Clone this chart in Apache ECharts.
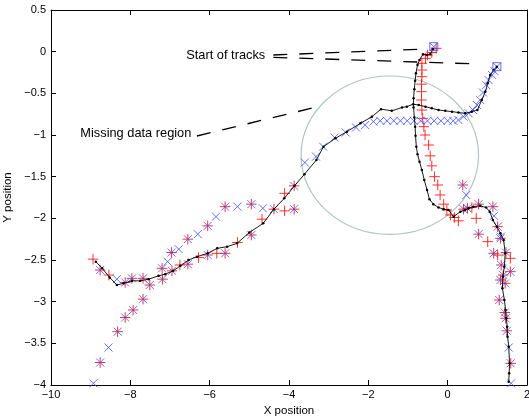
<!DOCTYPE html>
<html><head><meta charset="utf-8">
<script src="https://cdn.jsdelivr.net/npm/echarts@6/dist/echarts.min.js"></script>
<style>html,body{margin:0;padding:0;background:#fff}#c{width:529px;height:419px}</style>
</head><body><div id="c"></div>
<script>
const xTicks = {min: -10, max: 2, interval: 2};
const yTicks = {min: -4, max: 0.5, interval: 0.5};

const trackA = [[-0.37,0.03],[-0.44,-0.03],[-0.52,-0.04],[-0.62,-0.03],[-0.71,-0.10],[-0.76,-0.16],[-0.80,-0.26],[-0.82,-0.35],[-0.84,-0.45],[-0.86,-0.56],[-0.86,-0.67],[-0.84,-0.79],[-0.82,-0.90],[-0.81,-1.01],[-0.79,-1.14],[-0.76,-1.23],[-0.71,-1.32],[-0.65,-1.42],[-0.59,-1.54],[-0.52,-1.66],[-0.46,-1.77],[-0.36,-1.83],[-0.23,-1.87],[-0.10,-1.89],[0.02,-1.90],[0.15,-1.98],[0.32,-1.92],[0.44,-1.90],[0.53,-1.88],[0.65,-1.86],[0.82,-1.85],[0.97,-1.87],[1.06,-1.92],[1.14,-2.02],[1.24,-2.10],[1.33,-2.18],[1.41,-2.26],[1.45,-2.42],[1.43,-2.58],[1.39,-2.70],[1.38,-2.84],[1.43,-2.98],[1.46,-3.10],[1.48,-3.20],[1.50,-3.30],[1.51,-3.42],[1.54,-3.54],[1.56,-3.74],[1.55,-3.86],[1.54,-3.96]];

const trackB = [[1.24,-0.18],[1.16,-0.22],[1.07,-0.28],[1.01,-0.38],[0.95,-0.48],[0.86,-0.58],[0.75,-0.70],[0.61,-0.72],[0.44,-0.74],[0.27,-0.73],[0.11,-0.72],[-0.06,-0.71],[-0.23,-0.70],[-0.40,-0.68],[-0.56,-0.66],[-0.73,-0.64],[-0.87,-0.63],[-1.03,-0.66],[-1.15,-0.67],[-1.41,-0.71],[-1.68,-0.69],[-1.91,-0.78],[-2.20,-0.86],[-2.54,-0.96],[-2.83,-1.04],[-3.13,-1.14],[-3.31,-1.30],[-3.61,-1.47],[-3.86,-1.61],[-4.12,-1.76],[-4.38,-1.89],[-4.65,-2.06],[-5.00,-2.17],[-5.31,-2.30],[-5.56,-2.34],[-5.81,-2.36],[-6.05,-2.42],[-6.32,-2.46],[-6.53,-2.50],[-6.74,-2.57],[-6.92,-2.63],[-7.12,-2.67],[-7.29,-2.69],[-7.54,-2.73],[-7.75,-2.75],[-7.96,-2.75],[-8.17,-2.78],[-8.34,-2.80],[-8.52,-2.71],[-8.71,-2.60],[-8.87,-2.52]];

// measurements marked with both symbols
const bothMarks = [[-8.76,-2.62],[-8.13,-2.77],[-7.96,-2.72],[-7.68,-2.72],[-7.51,-2.80],[-7.20,-2.60],[-7.19,-2.73],[-6.96,-2.41],[-6.95,-2.63],[-6.55,-2.25],[-6.55,-2.55],[-6.05,-2.09],[-6.05,-2.44],[-5.61,-1.86],[-5.61,-2.42],[-4.95,-1.83],[-4.95,-2.20],[-4.38,-1.89],[-3.87,-1.89],[-3.87,-1.61],[-7.68,-2.97],[-7.93,-3.10],[-8.13,-3.19],[-8.32,-3.36],[-8.76,-3.73],[0.38,-1.60],[0.40,-1.89],[0.50,-1.88],[0.78,-1.83],[1.14,-1.86],[1.26,-2.10],[0.78,-2.19],[1.33,-2.24],[1.16,-2.42],[1.47,-2.41],[1.35,-2.56],[1.58,-2.64],[1.33,-2.74],[1.45,-2.78],[1.40,-2.68],[1.30,-2.98],[1.44,-3.13],[1.46,-3.20],[1.49,-3.35],[1.59,-3.74]];

const redPlusOnly = [[-0.29,0.04],[-0.40,-0.01],[-0.51,-0.04],[-0.56,-0.08],[-0.65,-0.14],[-0.65,-0.22],[-0.65,-0.30],[-0.66,-0.39],[-0.66,-0.48],[-0.66,-0.58],[-0.65,-0.70],[-0.63,-0.80],[-0.60,-0.90],[-0.57,-1.00],[-0.48,-1.12],[-0.44,-1.25],[-0.40,-1.37],[-0.33,-1.50],[-0.25,-1.60],[-0.19,-1.72],[-0.10,-1.83],[-0.02,-1.90],[0.07,-1.96],[0.17,-1.99],[0.27,-2.03],[0.61,-1.87],[0.72,-2.00],[1.01,-2.28],[1.26,-2.44],[1.58,-2.48],[-8.94,-2.49],[-8.54,-2.68],[-6.75,-2.56],[-6.28,-2.47],[-5.82,-2.42],[-5.30,-2.29],[-4.68,-2.01],[-4.11,-1.91],[-4.11,-1.70]];

const blueCrossOnly = [[-0.35,0.06],[1.24,-0.18],[1.17,-0.23],[1.12,-0.28],[1.03,-0.34],[0.97,-0.40],[0.89,-0.49],[0.82,-0.58],[0.74,-0.64],[0.64,-0.70],[0.53,-0.74],[0.40,-0.78],[0.27,-0.82],[0.14,-0.83],[0.00,-0.83],[-0.17,-0.83],[-0.34,-0.83],[-0.51,-0.83],[-0.68,-0.83],[-0.85,-0.83],[-1.02,-0.83],[-1.19,-0.83],[-1.36,-0.83],[-1.53,-0.83],[-1.70,-0.83],[-1.87,-0.84],[-2.08,-0.88],[-2.31,-0.91],[-2.57,-0.97],[-2.85,-1.03],[-3.14,-1.14],[-3.32,-1.26],[-3.60,-1.33],[-8.34,-2.73],[-7.06,-2.52],[-6.78,-2.37],[-6.30,-2.19],[-5.84,-1.98],[-5.30,-1.86],[-4.66,-1.88],[-8.55,-3.55],[-8.93,-3.98],[0.47,-1.72],[1.17,-1.97],[1.34,-2.22],[1.54,-3.55],[1.60,-3.98]];

const trackStarts = [[-0.35,0.06],[1.24,-0.18]];

// annotations (data coordinates)
const regionEllipse = [[-1.459,-1.242,2.238,0.950]];
const dashStart = [[-4.396,-0.040],[-0.514,0.032]];
const dashStart2 = [[-4.396,-0.068],[0.771,-0.148]];
const dashMissing = [[-6.32,-1.012],[-3.338,-0.668]];
const noteText = ['Start of tracks','Missing data region'];
const notePos = [[-6.59,-0.04],[-9.26,-0.976]];

const FONT = '"Liberation Sans", Arial, Helvetica, sans-serif';
const minus = v => String(v).replace('-', '\u2212');
const redPlus = redPlusOnly.concat(bothMarks);
const blueCross = blueCrossOnly.concat(bothMarks);

const chart = echarts.init(document.getElementById('c'));
const axBase = {
  axisLine: {show: true, onZero: false, lineStyle: {color: '#000', width: 1}},
  axisTick: {show: true, inside: true, length: 5, lineStyle: {color: '#000'}},
  splitLine: {show: false},
};
const dashStyle = {color: '#000', width: 1.3, type: [14, 12]};
chart.setOption({
  animation: false,
  grid: {left: 51, right: 2, top: 10, bottom: 34, containLabel: false, outerBoundsMode: 'none'},
  xAxis: [
    Object.assign({type: 'value', min: xTicks.min, max: xTicks.max, interval: xTicks.interval,
      name: 'X position', nameLocation: 'middle', nameGap: 18,
      nameTextStyle: {fontFamily: FONT, fontSize: 11.5, color: '#000'},
      axisLabel: {formatter: minus, fontFamily: FONT, fontSize: 11, color: '#000', margin: 4}}, axBase),
    Object.assign({type: 'value', position: 'top', min: xTicks.min, max: xTicks.max, interval: xTicks.interval,
      axisLabel: {show: false}}, axBase)
  ],
  yAxis: [
    Object.assign({type: 'value', min: yTicks.min, max: yTicks.max, interval: yTicks.interval,
      name: 'Y position', nameLocation: 'middle', nameGap: 33,
      nameTextStyle: {fontFamily: FONT, fontSize: 11.5, color: '#000'},
      axisLabel: {formatter: minus, fontFamily: FONT, fontSize: 11, color: '#000', margin: 5}}, axBase),
    Object.assign({type: 'value', position: 'right', min: yTicks.min, max: yTicks.max, interval: yTicks.interval,
      axisLabel: {show: false}}, axBase)
  ],
  series: [
    {type: 'custom', data: regionEllipse, silent: true, z: 1,
      renderItem: (params, api) => {
        const c = api.coord([api.value(0), api.value(1)]);
        const s = api.size([api.value(2), api.value(3)]);
        return {type: 'ellipse', shape: {cx: c[0], cy: c[1], rx: s[0], ry: s[1]},
          style: {fill: 'none', stroke: '#b2c4c4', lineWidth: 1.2}};
      }},
    {type: 'line', data: dashStart, symbol: 'none', lineStyle: dashStyle, z: 2},
    {type: 'line', data: dashStart2, symbol: 'none', lineStyle: dashStyle, z: 2},
    {type: 'line', data: dashMissing, symbol: 'none', lineStyle: dashStyle, z: 2},
    {type: 'custom', data: notePos, silent: true, z: 3,
      renderItem: (params, api) => {
        const c = api.coord([api.value(0), api.value(1)]);
        return {type: 'text', x: c[0], y: c[1],
          style: {text: noteText[params.dataIndex], fill: '#000', font: '12.8px ' + FONT,
            textAlign: 'left', textVerticalAlign: 'middle'}};
      }},
    {type: 'scatter', data: redPlus, symbol: 'path://M0,5L10,5M5,0L5,10', symbolSize: 10.5, z: 4,
      itemStyle: {color: 'none', borderColor: '#ff1a1a', borderWidth: 1, opacity: 0.9}},
    {type: 'scatter', data: blueCross, symbol: 'path://M0,0L10,10M0,10L10,0', symbolSize: 8, z: 5,
      itemStyle: {color: 'none', borderColor: '#3c4cff', borderWidth: 1, opacity: 0.8}},
    {type: 'line', data: trackA, symbol: 'circle', symbolSize: 2.5, z: 6,
      lineStyle: {color: '#000', width: 0.9}, itemStyle: {color: '#000'}},
    {type: 'line', data: trackB, symbol: 'circle', symbolSize: 2.5, z: 6,
      lineStyle: {color: '#000', width: 0.9}, itemStyle: {color: '#000'}},
    {type: 'scatter', data: trackStarts, symbol: 'rect', symbolSize: 8, z: 7,
      itemStyle: {color: 'none', borderColor: '#3c4cff', borderWidth: 1}}
  ]
});
</script></body></html>
